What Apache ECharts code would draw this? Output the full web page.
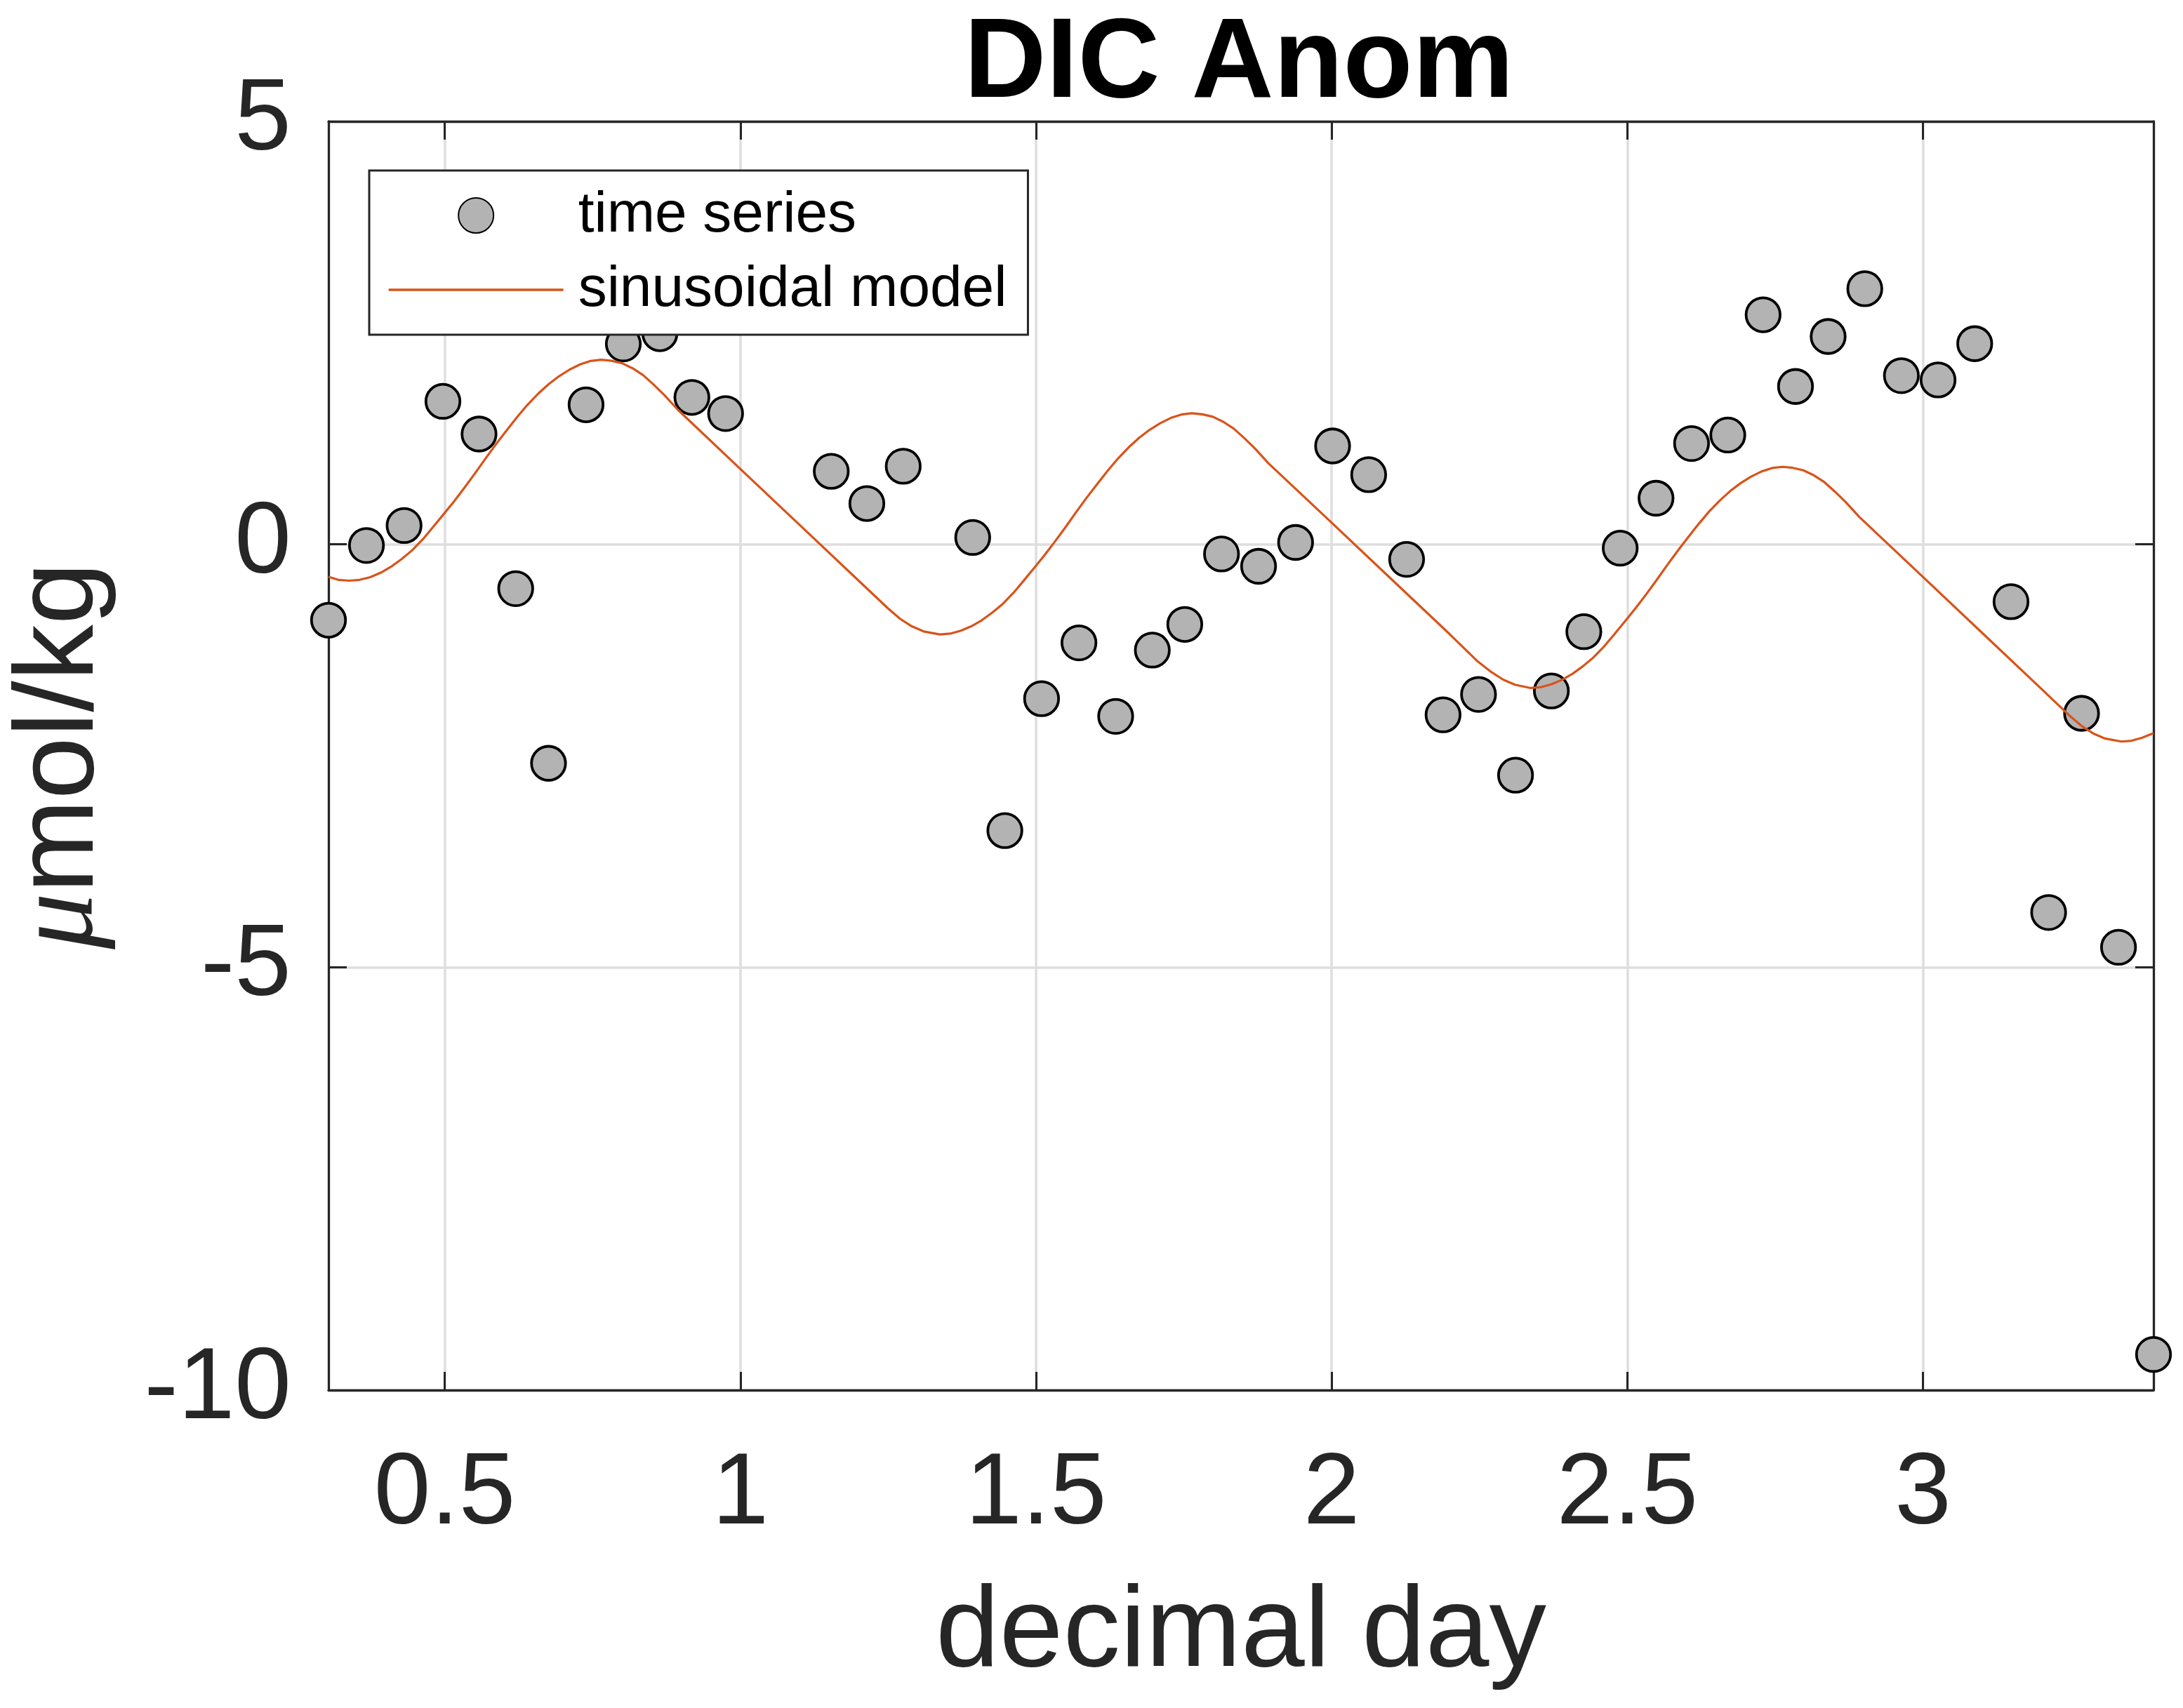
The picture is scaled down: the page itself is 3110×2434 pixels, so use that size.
<!DOCTYPE html>
<html>
<head>
<meta charset="utf-8">
<title>DIC Anom</title>
<script src="https://cdn.jsdelivr.net/npm/echarts@6.0.0/dist/echarts.min.js"></script>
<style>
  html, body { margin: 0; padding: 0; background: #fff; }
  #chart { width: 3110px; height: 2434px; }
</style>
</head>
<body>
<div id="chart"></div>
<script>
// observations (decimal day, umol/kg anomaly)
const timeDays = [
  0.3034, 0.3676, 0.4312, 0.4969, 0.558, 0.620, 0.6755, 0.739, 0.802, 0.8638, 0.918, 0.975,
  1.1537, 1.2139, 1.2754, 1.3929, 1.4473, 1.5094, 1.5726, 1.6347, 1.6967, 1.7516, 1.8137,
  1.8764, 1.939, 2.0016, 2.0626, 2.1268, 2.1884, 2.2484, 2.311, 2.3716, 2.4265, 2.488, 2.5486, 2.6087,
  2.670, 2.7297, 2.7845, 2.8397, 2.9017, 2.9636, 3.0256, 3.0876, 3.149, 3.2126, 3.2683, 3.3308, 3.39
];
const dicAnom = [
  -0.897, -0.014, 0.222, 1.69, 1.304, -0.524, -2.589, 1.65, 2.369, 2.49, 1.737, 1.546,
  0.863, 0.482, 0.923, 0.081, -3.385, -1.825, -1.165, -2.034, -1.251, -0.947, -0.114,
  -0.26, 0.022, 1.163, 0.823, -0.178, -2.016, -1.775, -2.73, -1.734, -1.033, -0.046, 0.545, 1.191,
  1.292, 2.714, 1.866, 2.457, 3.022, 1.994, 1.943, 2.372, -0.678, -4.353, -1.998, -4.764, -9.578
];

// fitted model
const modelDays = [
  0.3034, 0.32, 0.3385, 0.356, 0.374, 0.392, 0.4095, 0.427, 0.445, 0.463, 0.4805, 0.498, 0.516, 0.534,
  0.5515, 0.569, 0.587, 0.605, 0.6225, 0.64, 0.658, 0.676, 0.6935, 0.711, 0.729, 0.747, 0.7645, 0.782,
  0.80, 0.818, 0.8355, 0.853, 0.871, 0.8946, 1.00, 1.10, 1.20, 1.25, 1.27, 1.29, 1.31, 1.3375,
  1.355, 1.373, 1.391, 1.4085, 1.426, 1.444, 1.462, 1.4795, 1.497, 1.515, 1.533, 1.5505, 1.568, 1.586,
  1.604, 1.6215, 1.639, 1.657, 1.675, 1.6925, 1.71, 1.728, 1.746, 1.7635, 1.781, 1.799, 1.817, 1.8345,
  1.852, 1.870, 1.8936, 2.00, 2.10, 2.20, 2.247, 2.27, 2.29, 2.31, 2.3365,
  2.354, 2.372, 2.39, 2.4075, 2.425, 2.443, 2.461, 2.4785, 2.496, 2.514, 2.532, 2.5495, 2.567, 2.585,
  2.603, 2.6205, 2.638, 2.656, 2.674, 2.6915, 2.709, 2.727, 2.745, 2.7625, 2.78, 2.798, 2.816, 2.8335,
  2.851, 2.869, 2.8926, 3.00, 3.10, 3.20, 3.248, 3.268, 3.288, 3.308, 3.3355, 3.353, 3.371, 3.39
];
const modelValues = [
  -0.385, -0.42, -0.43, -0.42, -0.388, -0.335, -0.264, -0.175, -0.07, 0.06, 0.206, 0.355, 0.51, 0.675,
  0.842, 1.015, 1.187, 1.35, 1.505, 1.65, 1.781, 1.895, 1.988, 2.065, 2.127, 2.168, 2.182, 2.17,
  2.141, 2.08, 2.0, 1.89, 1.768, 1.588, 0.89, 0.23, -0.43, -0.76, -0.88, -0.97, -1.03, -1.066,
  -1.056, -1.021, -0.968, -0.897, -0.808, -0.703, -0.573, -0.427, -0.278, -0.123, 0.042, 0.209, 0.382, 0.554,
  0.717, 0.872, 1.017, 1.148, 1.262, 1.355, 1.432, 1.494, 1.535, 1.549, 1.537, 1.508, 1.447, 1.367,
  1.257, 1.135, 0.955, 0.255, -0.405, -1.065, -1.385, -1.51, -1.60, -1.66, -1.699,
  -1.689, -1.654, -1.601, -1.53, -1.441, -1.336, -1.206, -1.06, -0.911, -0.756, -0.591, -0.424, -0.251, -0.079,
  0.084, 0.239, 0.384, 0.515, 0.629, 0.722, 0.799, 0.861, 0.902, 0.916, 0.904, 0.875, 0.814, 0.734,
  0.624, 0.502, 0.322, -0.386, -1.046, -1.706, -2.026, -2.146, -2.236, -2.296, -2.332, -2.322, -2.287, -2.232
];

const xTicks = [0.5, 1, 1.5, 2, 2.5, 3];
const xRange = [0.3034, 3.39];
const yRange = [-10, 5];

const FONT = "Liberation Sans, Arial, sans-serif";
const AXIS_COLOR = "#262626";
const GRID_COLOR = "#dedede";
const MODEL_COLOR = "#D95319";

function zip(xs, ys) {
  return xs.map((x, i) => [x, ys[i]]);
}

function boxAxis(base) {
  // mirrored top/right axes so the plot gets a closed box with inward ticks
  return Object.assign(
    {
      type: "value",
      axisLine: { show: true, onZero: false, lineStyle: { color: AXIS_COLOR, width: 3.3 } },
      axisTick: { show: true, inside: true, length: 26, lineStyle: { color: AXIS_COLOR, width: 3 } },
      axisLabel: { show: false },
      splitLine: { show: false },
    },
    base
  );
}

const chart = echarts.init(document.getElementById("chart"), null, { renderer: "canvas" });

chart.setOption({
  backgroundColor: "#fff",
  animation: false,
  title: {
    text: "DIC Anom",
    left: 1765,
    top: 12,
    padding: 0,
    textAlign: "center",
    textStyle: { fontFamily: FONT, fontSize: 162, lineHeight: 162, fontWeight: "bold", color: "#000" },
  },
  legend: {
    data: [
      { name: "time series" },
      {
        name: "sinusoidal model",
        itemStyle: { color: "rgba(0,0,0,0)", borderWidth: 0, opacity: 0 },
        lineStyle: { color: MODEL_COLOR, width: 3.3 },
      },
    ],
    orient: "vertical",
    left: 526,
    top: 243,
    padding: [23, 30, 23, 26],
    itemWidth: 249,
    itemHeight: 50,
    itemGap: 24,
    backgroundColor: "#fff",
    borderColor: AXIS_COLOR,
    borderWidth: 3,
    borderRadius: 0,
    textStyle: { fontFamily: FONT, fontSize: 82, lineHeight: 82, color: "#000", padding: [0, 0, 0, 16] },
  },
  grid: { left: 460, top: 173, width: 2608, height: 1808, containLabel: false },
  xAxis: [
    {
      type: "value",
      min: xRange[0],
      max: xRange[1],
      name: "decimal day",
      nameLocation: "middle",
      nameGap: 267,
      nameTextStyle: { fontFamily: FONT, fontSize: 163, lineHeight: 163, color: AXIS_COLOR },
      axisLine: { show: true, onZero: false, lineStyle: { color: AXIS_COLOR, width: 3.3 } },
      axisTick: {
        show: true,
        inside: true,
        length: 26,
        customValues: xTicks,
        lineStyle: { color: AXIS_COLOR, width: 3 },
      },
      axisLabel: {
        customValues: xTicks,
        margin: 78,
        fontFamily: FONT,
        fontSize: 145,
        lineHeight: 145,
        color: AXIS_COLOR,
        formatter: (v) => String(v),
      },
      splitLine: { show: true, lineStyle: { color: GRID_COLOR, width: 3.5 } },
    },
    boxAxis({
      position: "top",
      min: xRange[0],
      max: xRange[1],
      axisTick: {
        show: true,
        inside: true,
        length: 26,
        customValues: xTicks,
        lineStyle: { color: AXIS_COLOR, width: 3 },
      },
    }),
  ],
  yAxis: [
    {
      type: "value",
      min: yRange[0],
      max: yRange[1],
      interval: 5,
      name: "{mu|μ}mol/kg",
      nameLocation: "middle",
      nameGap: 300,
      nameTextStyle: {
        fontFamily: FONT,
        fontSize: 160,
        lineHeight: 160,
        color: AXIS_COLOR,
        rich: {
          mu: { fontFamily: "Liberation Serif, serif", fontStyle: "italic", fontSize: 160, lineHeight: 160, color: AXIS_COLOR },
        },
      },
      axisLine: { show: true, onZero: false, lineStyle: { color: AXIS_COLOR, width: 3.3 } },
      axisTick: { show: true, inside: true, length: 26, lineStyle: { color: AXIS_COLOR, width: 3 } },
      axisLabel: {
        margin: 53,
        fontFamily: FONT,
        fontSize: 145,
        lineHeight: 145,
        padding: [16, 0, 0, 0],
        color: AXIS_COLOR,
      },
      splitLine: { show: true, lineStyle: { color: GRID_COLOR, width: 3.5 } },
    },
    boxAxis({ position: "right", min: yRange[0], max: yRange[1], interval: 5 }),
  ],
  series: [
    {
      name: "time series",
      type: "scatter",
      z: 2,
      clip: false,
      symbol: "circle",
      symbolSize: 48.5,
      itemStyle: { color: "#b3b3b3", borderColor: "#000", borderWidth: 3.8, opacity: 1 },
      data: zip(timeDays, dicAnom),
    },
    {
      name: "sinusoidal model",
      type: "line",
      z: 3,
      symbol: "none",
      showSymbol: false,
      smooth: false,
      lineStyle: { color: MODEL_COLOR, width: 3.2 },
      itemStyle: { color: MODEL_COLOR },
      data: zip(modelDays, modelValues),
    },
  ],
});
</script>
</body>
</html>
